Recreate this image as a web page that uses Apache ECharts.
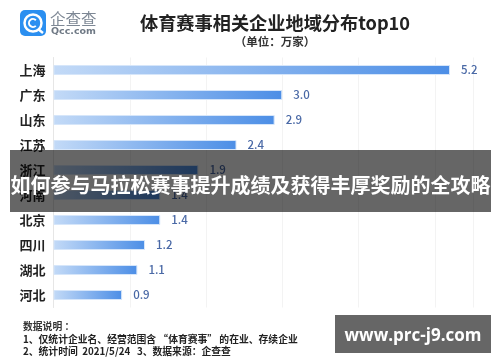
<!DOCTYPE html>
<html>
<head>
<meta charset="utf-8">
<title>体育赛事相关企业地域分布top10</title>
<script src="https://cdn.jsdelivr.net/npm/echarts@6/dist/echarts.min.js"></script>
<style>
  html, body { margin: 0; padding: 0; background: #fff; }
  #chart { width: 500px; height: 362px; filter: blur(0.4px); }
</style>
</head>
<body>
<div id="chart"></div>
<script>
const categories = ['上海', '广东', '山东', '江苏', '浙江', '河南', '北京', '四川', '湖北', '河北']
const values = [5.2, 3.0, 2.9, 2.4, 1.9, 1.4, 1.4, 1.2, 1.1, 0.9]
const titleText = '体育赛事相关企业地域分布top10'
const unitText = '（单位：万家）'
const noteLines = [
  '数据说明 ：',
  '1、仅统计企业名、经营范围含 “体育赛事” 的在业、存续企业',
  '2、统计时间  2021/5/24   3、数据来源：企查查'
]
const bannerText = '如何参与马拉松赛事提升成绩及获得丰厚奖励的全攻略'
const siteText = 'www.prc-j9.com'

const cjk = '"Noto Sans CJK SC", "Noto Sans", sans-serif'
const chart = echarts.init(document.getElementById('chart'))

const option = {
  animation: false,
  backgroundColor: '#fff',
  textStyle: { fontFamily: cjk },
  grid: { left: 53.5, top: 57.5, width: 419.4, height: 250, containLabel: false },
  xAxis: {
    type: 'value',
    min: 0,
    max: 5.5,
    interval: 1,
    axisLabel: { show: false },
    axisLine: { show: false },
    axisTick: { show: false },
    splitLine: { show: true, lineStyle: { color: '#f3f3f3', width: 1 } }
  },
  yAxis: {
    type: 'category',
    inverse: true,
    data: categories,
    axisTick: { show: false },
    axisLine: { show: true, lineStyle: { color: '#e6e6e6' } },
    axisLabel: { color: '#222', fontSize: 13, fontWeight: 'bold', margin: 8, fontFamily: cjk }
  },
  series: [
    {
      type: 'bar',
      data: values,
      barWidth: 10,
      itemStyle: {
        borderColor: '#d6e6fa',
        borderWidth: 1,
        color: new echarts.graphic.LinearGradient(0, 0, 1, 0, [
          { offset: 0, color: '#c3daf7' },
          { offset: 1, color: '#4c8ee6' }
        ])
      },
      label: {
        show: true,
        position: 'right',
        distance: 11,
        color: '#4a69a6',
        fontSize: 11.5,
        fontWeight: 500,
        fontFamily: cjk,
        formatter: (params) => params.value.toFixed(1)
      }
    }
  ],
  graphic: [
    // 标题
    { type: 'text', z: 10, x: 275, y: 23, style: { text: titleText, fill: '#222', font: 'bold 18.2px ' + cjk, align: 'center', verticalAlign: 'middle' } },
    { type: 'text', z: 10, x: 275, y: 42, style: { text: unitText, fill: '#333', font: 'bold 11.5px ' + cjk, align: 'center', verticalAlign: 'middle' } },
    // logo
    { type: 'rect', z: 10, shape: { x: 20, y: 10, width: 26, height: 26, r: 5 }, style: { fill: '#2b8ff0' } },
    { type: 'arc', z: 11, shape: { cx: 33, cy: 23, r: 8.5, startAngle: 0, endAngle: Math.PI * 2 }, style: { stroke: '#fff', lineWidth: 2.5, fill: null } },
    { type: 'arc', z: 11, shape: { cx: 33, cy: 23, r: 4, startAngle: 0.8, endAngle: 5.5 }, style: { stroke: '#fff', lineWidth: 2, fill: null } },
    { type: 'line', z: 11, shape: { x1: 38, y1: 29, x2: 43, y2: 33 }, style: { stroke: '#fff', lineWidth: 2.5 } },
    { type: 'text', z: 10, x: 50, y: 19, style: { text: '企查查', fill: '#7d8794', font: '15.5px ' + cjk, verticalAlign: 'middle' } },
    { type: 'text', z: 10, x: 51, y: 32, style: { text: 'Qcc.com', fill: '#6f7985', font: 'bold 9.5px "DejaVu Sans", sans-serif', verticalAlign: 'middle' } },
    // 数据说明
    { type: 'text', z: 10, x: 23, y: 326, style: { text: noteLines[0], fill: '#333', font: 'bold 9.8px ' + cjk, verticalAlign: 'middle' } },
    { type: 'text', z: 10, x: 23, y: 339, style: { text: noteLines[1], fill: '#222', font: 'bold 9.8px ' + cjk, verticalAlign: 'middle' } },
    { type: 'text', z: 10, x: 23, y: 351, style: { text: noteLines[2], fill: '#222', font: 'bold 9.8px ' + cjk, verticalAlign: 'middle' } },
    // 遮罩横幅
    { type: 'rect', z: 100, shape: { x: 10, y: 150, width: 481, height: 62 }, style: { fill: 'rgba(0,0,0,0.6)' } },
    { type: 'text', z: 101, x: 250.5, y: 185, style: { text: bannerText, fill: '#fff', font: 'bold 20px ' + cjk, align: 'center', verticalAlign: 'middle' } },
    { type: 'rect', z: 100, shape: { x: 335, y: 315, width: 156, height: 38 }, style: { fill: 'rgba(0,0,0,0.6)' } },
    { type: 'text', z: 101, x: 413, y: 336, style: { text: siteText, fill: '#fff', font: 'bold 17px "Open Sans", sans-serif', align: 'center', verticalAlign: 'middle' } }
  ]
}

chart.setOption(option)
</script>
</body>
</html>
